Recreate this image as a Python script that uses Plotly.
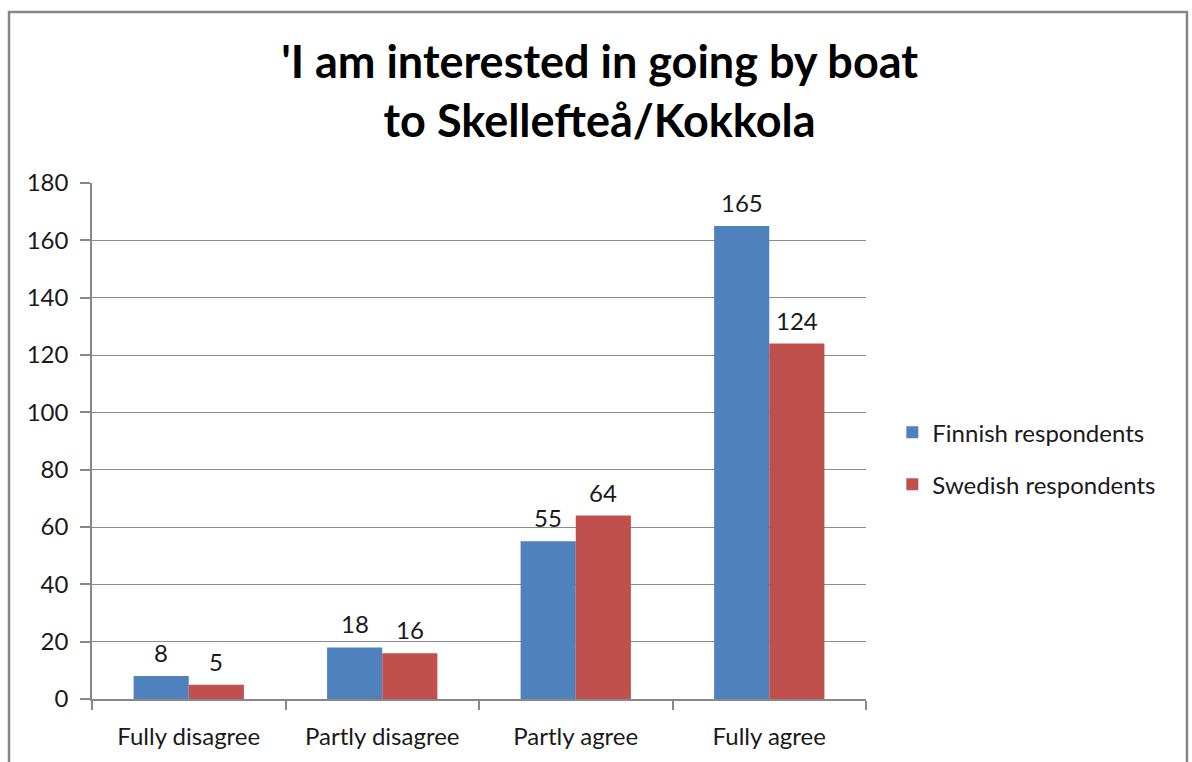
import plotly.graph_objects as go

categories = ["Fully disagree", "Partly disagree", "Partly agree", "Fully agree"]
finnish = [8, 18, 55, 165]
swedish = [5, 16, 64, 124]
y_ticks = [0, 20, 40, 60, 80, 100, 120, 140, 160, 180]

FONT = "Lato"
TEXT = "#1a1a1a"
BAR_PX = 55  # bar width in pixels, used to centre value labels over each bar

fig = go.Figure()
fig.add_trace(go.Bar(
    x=categories, y=finnish, name="Finnish respondents",
    marker=dict(color="#4F81BD", line=dict(width=0)),
    legendgroup="fin",
))
fig.add_trace(go.Bar(
    x=categories, y=swedish, name="Swedish respondents",
    marker=dict(color="#C0504D", line=dict(width=0)),
    legendgroup="swe",
))

# Value labels above each bar
for series, shift in ((finnish, -BAR_PX / 2), (swedish, BAR_PX / 2)):
    for cat, val in zip(categories, series):
        fig.add_annotation(
            x=cat, y=val, text=str(val), showarrow=False,
            xshift=shift, yshift=7, yanchor="bottom",
            font=dict(family=FONT, size=24, color=TEXT),
        )

fig.update_layout(
    width=1192, height=762,
    paper_bgcolor="white", plot_bgcolor="white",
    margin=dict(l=92, r=326, t=183, b=60),
    barmode="group", bargap=0.43, bargroupgap=0,
    font=dict(family=FONT, size=24, color=TEXT),
    title=dict(
        text="<b>'I am interested in going by boat<br>to Skellefteå/Kokkola</b>",
        x=0.503, xanchor="center", y=0.897, yanchor="middle",
        font=dict(family=FONT, size=45, color="black"),
    ),
    legend=dict(
        x=1.034, xanchor="left", y=0.466, yanchor="middle",
        font=dict(family=FONT, size=24, color=TEXT),
        tracegroupgap=18, itemclick=False, bgcolor="rgba(0,0,0,0)",
    ),
    showlegend=True,
)

fig.update_xaxes(
    showline=True, linecolor="#888888", linewidth=1.5,
    ticks="outside", tickson="boundaries", ticklen=9, tickcolor="#888888",
    tickwidth=1.5, showgrid=False, ticklabelstandoff=15,
    tickfont=dict(family=FONT, size=24, color=TEXT),
)
fig.update_yaxes(
    range=[0, 180], tickvals=y_ticks,
    showline=True, linecolor="#888888", linewidth=1.5,
    ticks="outside", ticklen=10, tickcolor="#888888", tickwidth=1.5,
    showgrid=True, gridcolor="#8c8c8c", gridwidth=1,
    zeroline=False, ticklabelstandoff=7,
    tickfont=dict(family=FONT, size=24, color=TEXT),
)

# Outer chart frame
fig.add_shape(
    type="rect", xref="paper", yref="paper",
    x0=-0.1072, x1=1.4147, y0=-0.14, y1=1.3314,
    line=dict(color="#878787", width=2.5), fillcolor="rgba(0,0,0,0)",
    layer="below",
)

fig.write_html("out.html")
